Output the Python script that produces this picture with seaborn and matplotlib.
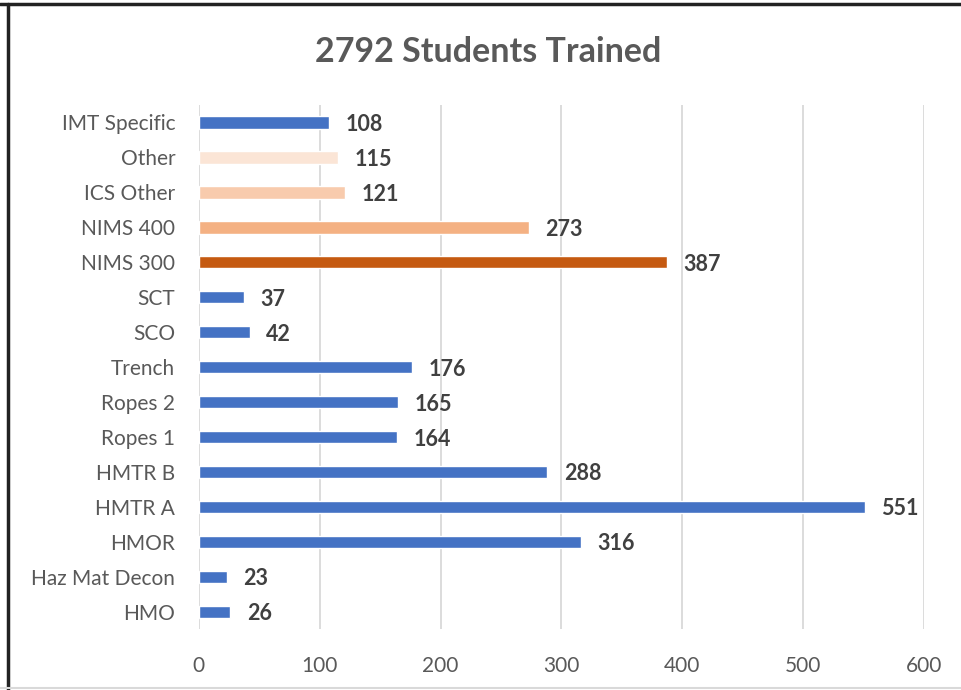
import matplotlib
matplotlib.use("Agg")
import seaborn as sns
from matplotlib import pyplot as plt
from matplotlib.lines import Line2D

courses = [
    "IMT Specific", "Other", "ICS Other", "NIMS 400", "NIMS 300", "SCT", "SCO",
    "Trench", "Ropes 2", "Ropes 1", "HMTR B", "HMTR A", "HMOR", "Haz Mat Decon", "HMO",
]
students = [108, 115, 121, 273, 387, 37, 42, 176, 165, 164, 288, 551, 316, 23, 26]
bar_colors = [
    "#4472C4", "#FBE5D6", "#F8CBAD", "#F4B183", "#C55A11", "#4472C4", "#4472C4",
    "#4472C4", "#4472C4", "#4472C4", "#4472C4", "#4472C4", "#4472C4", "#4472C4", "#4472C4",
]
x_ticks = [0, 100, 200, 300, 400, 500, 600]

sns.set_theme(style="white")
plt.rcParams["font.family"] = ["Lato", "DejaVu Sans"]

fig = plt.figure(figsize=(9.61, 6.9), dpi=100)
ax = fig.add_axes([0.207, 0.088, 0.7545, 0.760])

sns.barplot(x=students, y=courses, hue=courses, palette=bar_colors,
            orient="h", width=0.36, legend=False, ax=ax, saturation=1)

for cont in ax.containers:
    labels = ax.bar_label(cont, padding=12, fontsize=15.5, fontweight="bold", color="#404040")
    for t in labels:
        t.set_y(t.get_position()[1])
        t.set_va("center_baseline")

ax.set_xlim(0, 600)
ax.set_ylim(len(courses) - 0.5, -0.5)
ax.set_xticks(x_ticks)
ax.xaxis.grid(True, color="#D9D9D9", linewidth=1.3)
ax.set_axisbelow(True)
for s in ax.spines.values():
    s.set_visible(False)
ax.tick_params(axis="y", length=0, pad=17, labelsize=15, labelcolor="#595959")
ax.tick_params(axis="x", length=0, pad=19, labelsize=15, labelcolor="#595959")
ax.set_xlabel("")
ax.set_ylabel("")

fig.text(0.508, 0.925, "2792 Students Trained", ha="center", va="center",
         fontsize=24.5, fontweight="bold", color="#595959")

# frame lines of the original screenshot
fig.add_artist(Line2D([0, 1], [0.994, 0.994], color="#222222", linewidth=2.5, transform=fig.transFigure))
fig.add_artist(Line2D([0.008, 0.008], [0, 0.994], color="#222222", linewidth=2.5, transform=fig.transFigure))
fig.add_artist(Line2D([0, 1], [0.003, 0.003], color="#D9D9D9", linewidth=1.5, transform=fig.transFigure))

fig.savefig("out.png", dpi=100)
plt.close(fig)
